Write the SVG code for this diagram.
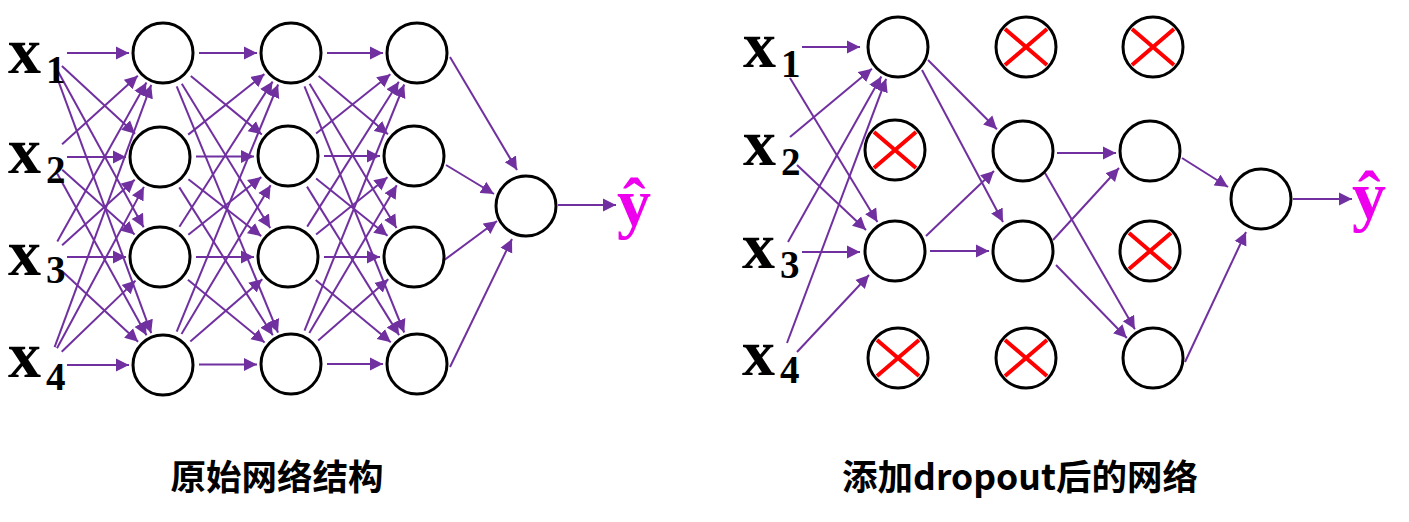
<svg xmlns="http://www.w3.org/2000/svg" width="1409" height="522" viewBox="0 0 1409 522">
<style>
.n{fill:#fff;stroke:#000;stroke-width:3}
.e line{stroke:#7030A0;stroke-width:2;marker-end:url(#ah)}
.x{stroke:#FF0000;stroke-width:4;stroke-linecap:butt}
.v{font-family:"Liberation Serif","Times New Roman",serif;font-weight:bold;font-size:66px;fill:#000}
.s{font-size:39px}
.y{font-family:"Liberation Serif","Times New Roman",serif;font-weight:bold;font-size:68px;fill:#EE00EE}
.t{font-family:"Noto Sans CJK SC","Noto Sans",sans-serif;font-weight:bold;font-size:35.5px;fill:#000;text-anchor:middle}
</style>
<defs>
<marker id="ah" markerUnits="userSpaceOnUse" markerWidth="14" markerHeight="14" refX="13" refY="7" orient="auto">
<path d="M0,0.5 L13,7 L0,13.5 z" fill="#7030A0"/>
</marker>
</defs>
<rect width="1409" height="522" fill="#fff"/>

<g id="connectors" class="e">
<!-- left: inputs to layer1 -->
<line x1="67" y1="53" x2="129" y2="53"/>
<line x1="61.9" y1="65.9" x2="135.1" y2="133.8"/>
<line x1="57.1" y1="69.7" x2="143.6" y2="227.2"/>
<line x1="54.6" y1="70.8" x2="151.2" y2="333.1"/>
<line x1="62.1" y1="144.3" x2="137.8" y2="75.8"/>
<line x1="67" y1="157" x2="126" y2="157"/>
<line x1="62.2" y1="169.7" x2="134.6" y2="234.4"/>
<line x1="57.2" y1="173.6" x2="146.5" y2="335.2"/>
<line x1="57.3" y1="241.4" x2="146.4" y2="82.6"/>
<line x1="62.1" y1="245.3" x2="134.7" y2="179.8"/>
<line x1="67" y1="257" x2="126" y2="257"/>
<line x1="61.9" y1="270.9" x2="138.1" y2="341.8"/>
<line x1="54.6" y1="347.2" x2="151.2" y2="84.9"/>
<line x1="57" y1="348.3" x2="143.9" y2="186.9"/>
<line x1="61.7" y1="351.8" x2="135.5" y2="280.6"/>
<line x1="67" y1="365" x2="129" y2="365"/>
<!-- left: layer1 to layer2 -->
<line x1="199" y1="53" x2="257" y2="53"/>
<line x1="190.8" y1="75.9" x2="261.8" y2="134.4"/>
<line x1="181.8" y1="83.7" x2="270.2" y2="228"/>
<line x1="176.7" y1="86.3" x2="278" y2="332.6"/>
<line x1="188.2" y1="134.6" x2="264.4" y2="74.1"/>
<line x1="196" y1="156.5" x2="254" y2="156.5"/>
<line x1="188.4" y1="179.2" x2="261.2" y2="236.1"/>
<line x1="179.3" y1="187.4" x2="272.8" y2="335.3"/>
<line x1="179.4" y1="226.7" x2="272.6" y2="81.6"/>
<line x1="188.3" y1="234.7" x2="261.3" y2="177.1"/>
<line x1="196" y1="257" x2="254" y2="257"/>
<line x1="187.9" y1="279.8" x2="264.6" y2="342.5"/>
<line x1="176.7" y1="331.7" x2="278.1" y2="84.5"/>
<line x1="181.5" y1="334.1" x2="270.6" y2="185.2"/>
<line x1="190.3" y1="341.5" x2="262.3" y2="279.2"/>
<line x1="199" y1="364.5" x2="257" y2="364.5"/>
<!-- left: layer2 to layer3 -->
<line x1="327" y1="53" x2="383" y2="53"/>
<line x1="318.6" y1="76.1" x2="387.9" y2="134.2"/>
<line x1="309.6" y1="83.8" x2="396.5" y2="227.9"/>
<line x1="304.5" y1="86.4" x2="404.2" y2="332.5"/>
<line x1="316.1" y1="133.5" x2="390.4" y2="74.2"/>
<line x1="324" y1="156" x2="380" y2="156"/>
<line x1="316.1" y1="178.5" x2="387.5" y2="235.7"/>
<line x1="307" y1="186.6" x2="399.1" y2="335.1"/>
<line x1="307.2" y1="226.6" x2="398.8" y2="81.7"/>
<line x1="316.1" y1="234.5" x2="387.5" y2="177.3"/>
<line x1="324" y1="257" x2="380" y2="257"/>
<line x1="315.7" y1="280" x2="390.8" y2="342.3"/>
<line x1="304.5" y1="330.6" x2="404.2" y2="84.5"/>
<line x1="309.3" y1="333" x2="396.7" y2="185.3"/>
<line x1="318.2" y1="340.4" x2="388.3" y2="279.3"/>
<line x1="327" y1="364" x2="383" y2="364"/>
<!-- left: layer3 to output -->
<line x1="450" y1="57" x2="517" y2="170"/>
<line x1="446" y1="165" x2="494" y2="194"/>
<line x1="443" y1="261" x2="497" y2="221"/>
<line x1="450" y1="367" x2="512" y2="239"/>
<line x1="558" y1="205" x2="616" y2="205"/>
<!-- right: inputs to layer1 -->
<line x1="802" y1="47" x2="860" y2="47"/>
<line x1="790" y1="78" x2="877.4" y2="221.9"/>
<line x1="790" y1="137" x2="871.9" y2="68.8"/>
<line x1="797" y1="165" x2="866" y2="230"/>
<line x1="788" y1="242" x2="881.3" y2="76.6"/>
<line x1="802" y1="252" x2="860" y2="252"/>
<line x1="787" y1="343" x2="886.1" y2="78.8"/>
<line x1="797" y1="352" x2="869" y2="275"/>
<!-- right: layer1 to layer2 -->
<line x1="928" y1="60" x2="996.9" y2="129.2"/>
<line x1="922" y1="70" x2="1003" y2="222"/>
<line x1="926" y1="236" x2="994" y2="171"/>
<line x1="930" y1="251" x2="989" y2="251"/>
<!-- right: layer2 to layer3 -->
<line x1="1057" y1="153" x2="1116" y2="153"/>
<line x1="1045" y1="173" x2="1134.9" y2="329.2"/>
<line x1="1053" y1="240" x2="1119" y2="168"/>
<line x1="1056" y1="265" x2="1126.8" y2="338"/>
<!-- right: layer3 to output -->
<line x1="1182" y1="158" x2="1228" y2="187"/>
<line x1="1185" y1="362" x2="1246" y2="232"/>
<line x1="1293" y1="199" x2="1352" y2="199"/>
</g>

<!-- left inputs -->
<g id="L_x1"><text class="v" x="8" y="73">x<tspan class="s" x="46" y="83">1</tspan></text></g>
<g id="L_x2"><text class="v" x="8" y="173">x<tspan class="s" x="46" y="183">2</tspan></text></g>
<g id="L_x3"><text class="v" x="8" y="275">x<tspan class="s" x="46" y="283">3</tspan></text></g>
<g id="L_x4"><text class="v" x="8" y="377">x<tspan class="s" x="46" y="390">4</tspan></text></g>

<!-- left layer 1 -->
<g id="L1_1"><circle class="n" cx="163" cy="53" r="30"/></g>
<g id="L1_2"><circle class="n" cx="160" cy="157" r="30"/></g>
<g id="L1_3"><circle class="n" cx="160" cy="257" r="30"/></g>
<g id="L1_4"><circle class="n" cx="163" cy="365" r="30"/></g>
<!-- left layer 2 -->
<g id="L2_1"><circle class="n" cx="291" cy="53" r="30"/></g>
<g id="L2_2"><circle class="n" cx="288" cy="156" r="30"/></g>
<g id="L2_3"><circle class="n" cx="288" cy="257" r="30"/></g>
<g id="L2_4"><circle class="n" cx="291" cy="364" r="30"/></g>
<!-- left layer 3 -->
<g id="L3_1"><circle class="n" cx="417" cy="53" r="30"/></g>
<g id="L3_2"><circle class="n" cx="414" cy="156" r="30"/></g>
<g id="L3_3"><circle class="n" cx="414" cy="257" r="30"/></g>
<g id="L3_4"><circle class="n" cx="417" cy="364" r="30"/></g>
<!-- left output -->
<g id="L_out"><circle class="n" cx="526" cy="206" r="30"/></g>
<g id="L_yhat"><text class="y" x="617" y="226">ŷ</text></g>

<!-- right inputs -->
<g id="R_x1"><text class="v" x="743" y="67">x<tspan class="s" x="781" y="77">1</tspan></text></g>
<g id="R_x2"><text class="v" x="743" y="165">x<tspan class="s" x="781" y="175">2</tspan></text></g>
<g id="R_x3"><text class="v" x="742" y="268">x<tspan class="s" x="780" y="278">3</tspan></text></g>
<g id="R_x4"><text class="v" x="742" y="375">x<tspan class="s" x="780" y="383">4</tspan></text></g>

<!-- right layer 1 -->
<g id="R1_1"><circle class="n" cx="898" cy="47" r="30"/></g>
<g id="R1_2"><circle class="n" cx="895" cy="150" r="30"/><path class="x" d="M874,132 L916,168 M916,132 L874,168"/></g>
<g id="R1_3"><circle class="n" cx="895" cy="251" r="30"/></g>
<g id="R1_4"><circle class="n" cx="898" cy="358" r="30"/><path class="x" d="M877,340 L919,376 M919,340 L877,376"/></g>
<!-- right layer 2 -->
<g id="R2_1"><circle class="n" cx="1026" cy="47" r="30"/><path class="x" d="M1005,29 L1047,65 M1047,29 L1005,65"/></g>
<g id="R2_2"><circle class="n" cx="1023" cy="151" r="30"/></g>
<g id="R2_3"><circle class="n" cx="1023" cy="251" r="30"/></g>
<g id="R2_4"><circle class="n" cx="1026" cy="358" r="30"/><path class="x" d="M1005,340 L1047,376 M1047,340 L1005,376"/></g>
<!-- right layer 3 -->
<g id="R3_1"><circle class="n" cx="1153" cy="47" r="30"/><path class="x" d="M1132,29 L1174,65 M1174,29 L1132,65"/></g>
<g id="R3_2"><circle class="n" cx="1150" cy="151" r="30"/></g>
<g id="R3_3"><circle class="n" cx="1150" cy="251" r="30"/><path class="x" d="M1129,233 L1171,269 M1171,233 L1129,269"/></g>
<g id="R3_4"><circle class="n" cx="1153" cy="358" r="30"/></g>
<!-- right output -->
<g id="R_out"><circle class="n" cx="1261" cy="199" r="30"/></g>
<g id="R_yhat"><text class="y" x="1352" y="219">ŷ</text></g>

<g id="titles">
<text class="t" x="277" y="490">原始网络结构</text>
<text class="t" x="1020" y="490">添加dropout后的网络</text>
</g>
</svg>
